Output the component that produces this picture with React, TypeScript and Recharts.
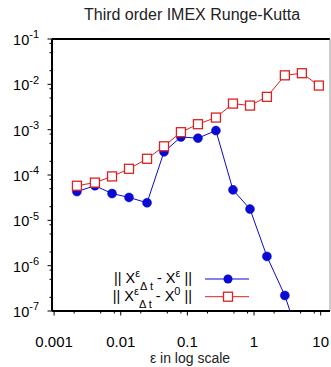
import { LineChart, Line, XAxis, YAxis, ReferenceLine, Legend } from "recharts";

// epsilon values (x)
const epsValues = [0.0022, 0.0041, 0.0074, 0.0133, 0.0248, 0.0446, 0.08, 0.144, 0.268, 0.483, 0.87, 1.56, 2.9, 5.22, 9.4];
// || X^eps_dt - X^eps ||  (blue)
const errToEps = [4.3e-5, 5.8e-5, 3.9e-5, 3.2e-5, 2.44e-5, 3.24e-4, 6.9e-4, 6.5e-4, 9.55e-4, 4.7e-5, 1.77e-5, 1.6e-6, 2.2e-7, 1.6e-8, 2e-9];
// || X^eps_dt - X^0 ||  (red)
const errToLimit = [5.8e-5, 6.8e-5, 9.3e-5, 1.37e-4, 2.28e-4, 4.3e-4, 8.8e-4, 1.32e-3, 1.85e-3, 3.76e-3, 3.4e-3, 5.3e-3, 1.58e-2, 1.76e-2, 9.4e-3];

const xMajor = [0.001, 0.01, 0.1, 1, 10];
const xLabels = ["0.001", "0.01", "0.1", "1", "10"];
const xMinor = [0.002, 0.005, 0.008, 0.02, 0.05, 0.08, 0.2, 0.5, 0.8, 2, 5, 8];
const yMajor = [1e-7, 1e-6, 1e-5, 1e-4, 1e-3, 1e-2, 1e-1];
const yExponents = ["-7", "-6", "-5", "-4", "-3", "-2", "-1"];
const yMinor = [2e-7, 5e-7, 8e-7, 2e-6, 5e-6, 8e-6, 2e-5, 5e-5, 8e-5, 2e-4, 5e-4, 8e-4, 2e-3, 5e-3, 8e-3, 2e-2, 5e-2, 8e-2];

const X_MIN = 0.00093;
const X_MAX = 13.8;

const BLUE = "#0a0ad2";
const RED = "#d92323";
const FONT = "'Liberation Sans', Arial, Helvetica, sans-serif";

const data = epsValues.map((eps, i) => ({ eps, toEps: errToEps[i], toLimit: errToLimit[i] }));

const XTick = (props: any) => {
  const { x, y, payload } = props;
  const idx = xMajor.indexOf(payload.value);
  const major = idx >= 0;
  return (
    <g>
      <line x1={x} x2={x} y1={y} y2={y + (major ? 4.5 : 2.5)} stroke="#000" strokeWidth={1} />
      {major && (
        <text x={x} y={y + 35.5} textAnchor="middle" fontSize={15} fontFamily={FONT} fill="#000">
          {xLabels[idx]}
        </text>
      )}
    </g>
  );
};

const YTick = (props: any) => {
  const { x, y, payload } = props;
  const idx = yMajor.indexOf(payload.value);
  const major = idx >= 0;
  return (
    <g>
      <line x1={x - (major ? 4.5 : 2.5)} x2={x} y1={y} y2={y} stroke="#000" strokeWidth={1} />
      {major && (
        <text x={x - 13} y={y + 6} textAnchor="end" fontFamily={FONT} fill="#000">
          <tspan fontSize={14.5}>10</tspan>
          <tspan fontSize={11} dy={-6.7}>{yExponents[idx]}</tspan>
        </text>
      )}
    </g>
  );
};

const SquareDot = (props: any) => {
  const { cx, cy, index } = props;
  if (cx == null || cy == null) return <g key={index} />;
  return <rect key={index} x={cx - 4.5} y={cy - 4.5} width={9} height={9} fill="#fff" stroke={RED} strokeWidth={1.3} />;
};

const LegendLabel = ({ y, last }: { y: number; last: string }) => (
  <text x={97} y={y} textAnchor="end" fontFamily={FONT} fontSize={14.5} fill="#000">
    <tspan>|| X</tspan>
    <tspan fontSize={11} dy={-6}>ε</tspan>
    <tspan fontSize={11} dy={12.5}>Δ t</tspan>
    <tspan dy={-6.5}> - X</tspan>
    <tspan fontSize={11} dy={-6}>{last}</tspan>
    <tspan dy={6}> ||</tspan>
  </text>
);

const renderLegend = () => (
  <svg width={170} height={45}>
    <LegendLabel y={18.3} last="ε" />
    <line x1={110} x2={154} y1={14} y2={14} stroke={BLUE} strokeWidth={1} />
    <circle cx={133} cy={14} r={4.5} fill={BLUE} />
    <LegendLabel y={36} last="0" />
    <line x1={110} x2={154} y1={31.7} y2={31.7} stroke={RED} strokeWidth={1} />
    <rect x={128.5} y={27.2} width={9} height={9} fill="#fff" stroke={RED} strokeWidth={1.3} />
  </svg>
);

export default function App() {
  return (
    <div style={{ position: "absolute", left: 0, top: 0, width: 331, height: 367, background: "#fff" }}>
      <LineChart width={331} height={367} data={data} margin={{ top: 39, right: 1, left: 0, bottom: 0 }}>
        <XAxis
          dataKey="eps"
          type="number"
          scale="log"
          domain={[X_MIN, X_MAX]}
          allowDataOverflow
          ticks={[...xMajor, ...xMinor]}
          interval={0}
          tick={<XTick />}
          tickLine={false}
          tickSize={0}
          tickMargin={0}
          height={56}
          axisLine={{ stroke: "#000", strokeWidth: 2 }}
        />
        <YAxis
          type="number"
          scale="log"
          domain={[1e-7, 1e-1]}
          allowDataOverflow
          ticks={[...yMajor, ...yMinor]}
          interval={0}
          tick={<YTick />}
          tickLine={false}
          tickSize={0}
          tickMargin={0}
          width={52}
          axisLine={{ stroke: "#000", strokeWidth: 2 }}
        />
        <ReferenceLine y={1e-1} stroke="#000" strokeWidth={2} />
        <ReferenceLine x={X_MAX} stroke="#999" strokeWidth={1} />
        <Line
          dataKey="toEps"
          stroke={BLUE}
          strokeWidth={1}
          dot={{ r: 4.5, fill: BLUE, stroke: BLUE, strokeWidth: 0.5 }}
          isAnimationActive={false}
        />
        <Line
          dataKey="toLimit"
          stroke={RED}
          strokeWidth={1}
          dot={<SquareDot />}
          isAnimationActive={false}
        />
        <Legend
          layout="vertical"
          align="center"
          verticalAlign="middle"
          content={renderLegend}
          wrapperStyle={{ left: 95, top: 265, width: 170, height: 45 }}
        />
      </LineChart>
      <svg width={331} height={367} style={{ position: "absolute", left: 0, top: 0, pointerEvents: "none" }}>
        <text x={192} y={19.5} textAnchor="middle" fontFamily={FONT} fontSize={16} fill="#222">
          Third order IMEX Runge-Kutta
        </text>
        <text x={190} y={363} textAnchor="middle" fontFamily={FONT} fontSize={14} fill="#222">
          ε in log scale
        </text>
      </svg>
    </div>
  );
}
